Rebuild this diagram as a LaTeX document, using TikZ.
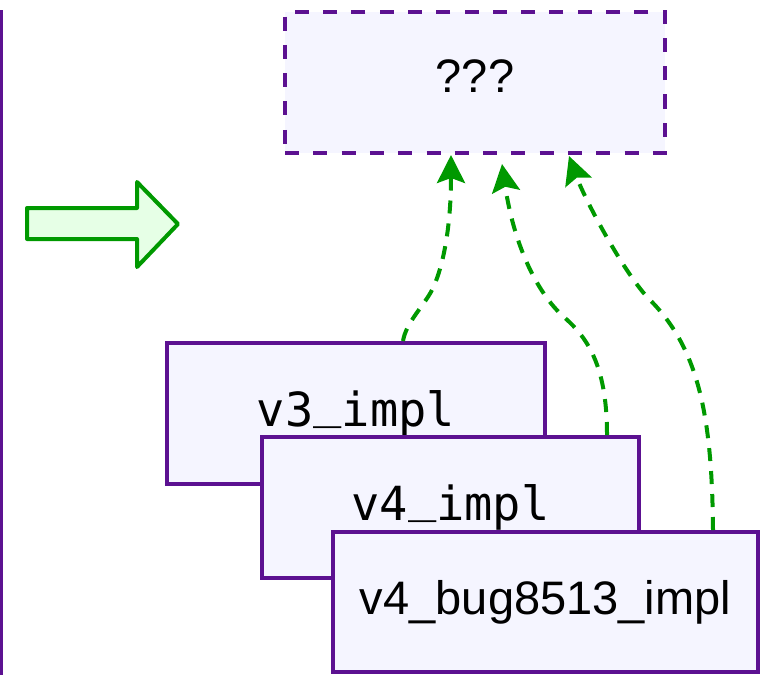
\documentclass[tikz,border=0pt]{standalone}
\usepackage{fontspec}
\setmainfont{Liberation Sans}
\newfontfamily\monofont{DejaVu Sans Mono}
\usetikzlibrary{arrows.meta}
\definecolor{pborder}{HTML}{5C1191}
\definecolor{pfill}{HTML}{F5F5FF}
\definecolor{gline}{HTML}{009900}
\definecolor{gfill}{HTML}{E6FFE6}
\newcommand{\hiund}{\raisebox{9pt}{\_}}
\tikzset{
  implbox/.style={draw=pborder, fill=pfill, line width=4pt, rectangle, inner sep=0pt,
    font=\fontsize{47}{56}\selectfont},
  monotext/.style={font=\monofont\fontsize{47}{56}\selectfont, text height=36pt, text depth=11pt},
  qbox/.style={draw=pborder, fill=pfill, line width=4pt, dash pattern=on 14pt off 14.3pt,
    rectangle, inner sep=0pt, font=\fontsize{47}{56}\selectfont, text height=34pt, text depth=13pt},
  deplink/.style={draw=gline, line width=4pt, dash pattern=on 13pt off 10pt,
    -{Stealth[length=28pt, width=28pt, inset=5pt, fill=gline]}},
  blockarrow/.style={draw=gline, fill=gfill, line width=4pt, line join=round},
  edgeline/.style={draw=pborder, line width=2.8pt}
}
\begin{document}
\begin{tikzpicture}[x=1pt, y=-1pt]
\useasboundingbox (0,0) rectangle (767,674);
% edge of the previous panel
\draw[edgeline] (-6,11) -- (1.3,11) -- (1.3,690);
% block arrow
\draw[blockarrow] (27,208) -- (137,208) -- (137,182) -- (178,224) -- (137,267) -- (137,239) -- (27,239) -- cycle;
% target box
\node[qbox, minimum width=380pt, minimum height=141pt] (q) at (475,82.5) {???};
% implementation boxes
\node[implbox, monotext, minimum width=378pt, minimum height=141pt] (v3) at (356,413.5) {v3\hiund impl};
\node[implbox, monotext, minimum width=377pt, minimum height=141pt] (v4) at (450.5,507.5) {v4\hiund impl};
\node[implbox, minimum width=425pt, minimum height=140pt, text height=34pt, text depth=10pt] (v4b) at (545.5,602) {v4\_bug8513\_impl};
% connector end points
\coordinate (s1) at ([xshift=47pt]v3.north);
\coordinate (s2) at ([xshift=156.5pt]v4.north);
\coordinate (s3) at ([xshift=167.5pt]v4b.north);
\coordinate (e1) at ([xshift=-24pt]q.south);
\coordinate (e2) at ([xshift=27pt,yshift=-9pt]q.south);
\coordinate (e3) at ([xshift=94pt,yshift=-1pt]q.south);
% connectors
\draw[deplink] (s1) .. controls (406,322) and (425,305) .. (433,288)
  .. controls (445,262) and (451,220) .. (e1);
\draw[deplink] (s2) .. controls (607,370) and (590,340) .. (565,318)
  .. controls (535,292) and (513,240) .. (e2);
\draw[deplink] (s3) .. controls (712,420) and (700,350) .. (650,300)
  .. controls (625,275) and (585,200) .. (e3);
\end{tikzpicture}
\end{document}
